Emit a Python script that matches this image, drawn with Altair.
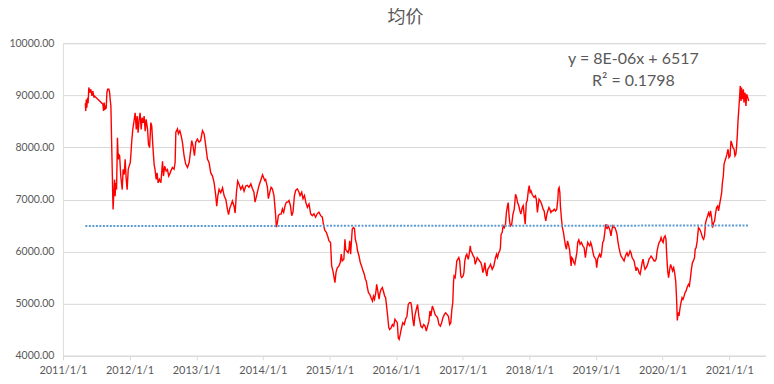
import altair as alt
import pandas as pd

# ---- series: 均价 ----
DATES = [
    "2011-05-04","2011-05-06","2011-05-09","2011-05-12","2011-05-16","2011-05-19","2011-05-23","2011-05-29",
    "2011-06-03","2011-06-09","2011-06-14","2011-06-20","2011-06-22","2011-08-08","2011-08-12","2011-08-15",
    "2011-08-19","2011-08-23","2011-08-26","2011-08-30","2011-09-03","2011-09-10","2011-09-14","2011-09-17",
    "2011-09-21","2011-09-25","2011-09-29","2011-10-01","2011-10-03","2011-10-07","2011-10-11","2011-10-14",
    "2011-10-18","2011-10-22","2011-10-27","2011-10-31","2011-11-03","2011-11-08","2011-11-14","2011-11-22",
    "2011-11-27","2011-12-03","2011-12-08","2011-12-14","2011-12-19","2011-12-25","2011-12-30",
    "2012-01-05","2012-01-08","2012-01-14","2012-01-19","2012-01-27","2012-02-01","2012-02-07","2012-02-12",
    "2012-02-17","2012-02-23","2012-02-28","2012-03-05","2012-03-10","2012-03-16","2012-03-21","2012-03-27",
    "2012-04-01","2012-04-09","2012-04-14","2012-04-20","2012-04-27","2012-05-02","2012-05-08","2012-05-15",
    "2012-05-20","2012-05-26","2012-05-31","2012-06-06","2012-06-13","2012-06-21","2012-06-30","2012-07-05",
    "2012-07-12","2012-07-20","2012-07-27","2012-08-03","2012-08-11","2012-08-14","2012-08-23","2012-09-01",
    "2012-09-07","2012-09-11","2012-09-20","2012-09-25","2012-10-03","2012-10-10","2012-10-17","2012-10-26",
    "2012-11-04","2012-11-14","2012-11-23","2012-12-02","2012-12-07","2012-12-14","2012-12-22","2012-12-29",
    "2013-01-07","2013-01-16","2013-01-25","2013-02-04","2013-02-13","2013-02-22","2013-03-03","2013-03-12",
    "2013-03-21","2013-03-31","2013-04-09","2013-04-18","2013-04-23","2013-04-29","2013-05-06","2013-05-15",
    "2013-05-25","2013-06-03","2013-06-12","2013-06-21","2013-06-27","2013-07-04","2013-07-11","2013-07-18",
    "2013-07-27","2013-08-02","2013-08-09","2013-08-16","2013-08-24","2013-09-02","2013-09-11","2013-09-20",
    "2013-09-29","2013-10-08","2013-10-17","2013-10-27","2013-11-05","2013-11-13","2013-11-19","2013-11-26",
    "2013-12-02","2013-12-11","2013-12-20","2013-12-30",
    "2014-01-04","2014-01-11","2014-01-16","2014-01-26","2014-01-31","2014-02-08","2014-02-15","2014-02-22",
    "2014-03-03","2014-03-09","2014-03-12","2014-03-16","2014-03-22","2014-03-27","2014-04-03","2014-04-11",
    "2014-04-18","2014-04-25","2014-05-03","2014-05-10","2014-05-17","2014-05-24","2014-06-01","2014-06-08",
    "2014-06-15","2014-06-23","2014-06-30","2014-07-09","2014-07-18","2014-07-24","2014-08-02","2014-08-09",
    "2014-08-17","2014-08-24","2014-09-02","2014-09-11","2014-09-20","2014-09-29","2014-10-08","2014-10-17",
    "2014-10-26","2014-11-04","2014-11-14","2014-11-23","2014-11-30","2014-12-07","2014-12-15","2014-12-24",
    "2014-12-29",
    "2015-01-07","2015-01-13","2015-01-20","2015-01-25","2015-01-31","2015-02-06","2015-02-13","2015-02-22",
    "2015-03-01","2015-03-07","2015-03-12","2015-03-21","2015-03-27","2015-03-31","2015-04-05","2015-04-13",
    "2015-04-18","2015-04-22","2015-04-27","2015-05-03","2015-05-06","2015-05-12","2015-05-18","2015-05-23",
    "2015-05-30","2015-06-04","2015-06-12","2015-06-19","2015-06-26","2015-07-04","2015-07-11","2015-07-17",
    "2015-07-22","2015-07-28","2015-08-03","2015-08-10","2015-08-17","2015-08-25","2015-08-30","2015-09-05",
    "2015-09-12","2015-09-17","2015-09-23","2015-09-30","2015-10-05","2015-10-11","2015-10-18","2015-10-26",
    "2015-10-31","2015-11-05","2015-11-11","2015-11-17","2015-11-22","2015-11-27","2015-12-05","2015-12-12",
    "2015-12-19","2015-12-26",
    "2016-01-02","2016-01-08","2016-01-13","2016-01-18","2016-01-24","2016-01-29","2016-02-07","2016-02-15",
    "2016-02-22","2016-03-01","2016-03-08","2016-03-15","2016-03-22","2016-03-26","2016-04-02","2016-04-08",
    "2016-04-13","2016-04-21","2016-04-28","2016-05-05","2016-05-11","2016-05-16","2016-05-24","2016-06-01",
    "2016-06-08","2016-06-15","2016-06-22","2016-06-29","2016-07-05","2016-07-10","2016-07-18","2016-07-25",
    "2016-08-02","2016-08-09","2016-08-16","2016-08-23","2016-08-31","2016-09-07","2016-09-14","2016-09-22",
    "2016-09-29","2016-10-06","2016-10-14","2016-10-21","2016-10-27","2016-11-02","2016-11-07","2016-11-11",
    "2016-11-14","2016-11-20","2016-11-23","2016-11-29","2016-12-04","2016-12-10","2016-12-15","2016-12-21",
    "2016-12-26",
    "2017-01-02","2017-01-07","2017-01-12","2017-01-18","2017-01-23","2017-01-31","2017-02-05","2017-02-11",
    "2017-02-14","2017-02-20","2017-02-27","2017-03-05","2017-03-10","2017-03-16","2017-03-21","2017-03-28",
    "2017-04-03","2017-04-10","2017-04-15","2017-04-21","2017-04-26","2017-05-02","2017-05-07","2017-05-13",
    "2017-05-18","2017-05-24","2017-06-02","2017-06-11","2017-06-20","2017-06-29","2017-07-05","2017-07-10",
    "2017-07-17","2017-07-23","2017-07-26","2017-07-30","2017-08-05","2017-08-10","2017-08-16","2017-08-23",
    "2017-08-28","2017-09-03","2017-09-07","2017-09-11","2017-09-15","2017-09-20","2017-09-26","2017-10-03",
    "2017-10-10","2017-10-14","2017-10-17","2017-10-23","2017-10-28","2017-11-04","2017-11-10","2017-11-15",
    "2017-11-23","2017-11-28","2017-12-04","2017-12-09","2017-12-15","2017-12-20","2017-12-26","2017-12-31",
    "2018-01-05","2018-01-10","2018-01-16","2018-01-21","2018-01-27","2018-02-03","2018-02-08","2018-02-14",
    "2018-02-18","2018-02-23","2018-03-01","2018-03-06","2018-03-12","2018-03-17","2018-03-23","2018-03-28",
    "2018-04-01","2018-04-07","2018-04-12","2018-04-18","2018-04-23","2018-04-29","2018-05-04","2018-05-10",
    "2018-05-17","2018-05-24","2018-05-31","2018-06-06","2018-06-09","2018-06-13","2018-06-17","2018-06-20",
    "2018-06-26","2018-07-01","2018-07-07","2018-07-12","2018-07-18","2018-07-23","2018-07-29","2018-08-03",
    "2018-08-09","2018-08-14","2018-08-18","2018-08-21","2018-08-27","2018-09-01","2018-09-07","2018-09-12",
    "2018-09-18","2018-09-23","2018-09-29","2018-10-06","2018-10-13","2018-10-21","2018-10-28","2018-11-04",
    "2018-11-10","2018-11-17","2018-11-22","2018-11-28","2018-12-03","2018-12-09","2018-12-14","2018-12-20",
    "2018-12-25","2018-12-31",
    "2019-01-05","2019-01-10","2019-01-16","2019-01-21","2019-01-27","2019-02-01","2019-02-07","2019-02-12",
    "2019-02-16","2019-02-21","2019-02-25","2019-03-03","2019-03-08","2019-03-13","2019-03-19","2019-03-24",
    "2019-03-30","2019-04-04","2019-04-10","2019-04-15","2019-04-21","2019-04-26","2019-05-02","2019-05-07",
    "2019-05-13","2019-05-18","2019-05-24","2019-05-29","2019-06-04","2019-06-09","2019-06-15","2019-06-20",
    "2019-06-26","2019-07-01","2019-07-07","2019-07-12","2019-07-18","2019-07-23","2019-07-29","2019-08-03",
    "2019-08-09","2019-08-14","2019-08-20","2019-08-25","2019-08-31","2019-09-05","2019-09-11","2019-09-16",
    "2019-09-22","2019-09-27","2019-10-03","2019-10-08","2019-10-14","2019-10-19","2019-10-25","2019-10-30",
    "2019-11-05","2019-11-10","2019-11-16","2019-11-21","2019-11-27","2019-12-02","2019-12-08","2019-12-13",
    "2019-12-19","2019-12-24","2019-12-30",
    "2020-01-04","2020-01-09","2020-01-15","2020-01-20","2020-01-23","2020-01-29","2020-02-03","2020-02-09",
    "2020-02-14","2020-02-20","2020-02-25","2020-03-02","2020-03-07","2020-03-13","2020-03-18","2020-03-22",
    "2020-03-26","2020-03-31","2020-04-06","2020-04-11","2020-04-17","2020-04-22","2020-04-28","2020-05-03",
    "2020-05-09","2020-05-14","2020-05-22","2020-05-27","2020-06-02","2020-06-07","2020-06-13","2020-06-18",
    "2020-06-24","2020-06-28","2020-07-03","2020-07-09","2020-07-12","2020-07-16","2020-07-22","2020-07-27",
    "2020-08-02","2020-08-07","2020-08-13","2020-08-18","2020-08-24","2020-08-29","2020-09-04","2020-09-09",
    "2020-09-15","2020-09-20","2020-09-26","2020-10-01","2020-10-07","2020-10-12","2020-10-18","2020-10-23",
    "2020-10-29","2020-11-03","2020-11-09","2020-11-14","2020-11-20","2020-11-24","2020-11-29","2020-12-03",
    "2020-12-08","2020-12-14","2020-12-19","2020-12-25","2020-12-30",
    "2021-01-05","2021-01-10","2021-01-16","2021-01-21","2021-01-27","2021-02-01","2021-02-06","2021-02-10",
    "2021-02-14","2021-02-17","2021-02-23","2021-02-26","2021-03-02","2021-03-06","2021-03-09","2021-03-13",
    "2021-03-19","2021-03-22","2021-03-28","2021-04-02","2021-04-06","2021-04-12","2021-04-17",
]

PRICES = [
    8850,8700,8920,8760,8950,8850,9150,9050,
    9115,8990,9080,8955,8990,8830,8700,8860,
    8720,8800,8740,9050,9115,9115,9050,8920,
    8795,8100,7450,7065,6810,7130,7385,7065,
    7320,7190,8185,7770,7865,7835,7450,7190,
    7580,7480,7770,7385,7190,7580,7640,
    7705,7835,8155,8345,8540,8665,8345,8600,
    8280,8540,8665,8345,8570,8470,8600,8310,
    8540,8345,8060,7995,8475,8410,8025,7670,
    7575,7385,7510,7320,7385,7320,7735,7450,
    7640,7545,7575,7450,7510,7545,7615,7580,
    7710,8290,8355,8260,8320,8225,8100,7840,
    7680,7615,7710,7970,8130,8030,7840,8100,
    8160,8100,8130,8320,8260,8030,7775,7710,
    7515,7450,7320,7065,6870,7065,7195,7130,
    7225,7065,7000,6805,6710,6840,6900,6970,
    6870,6740,7130,7355,7290,7195,7260,7160,
    7260,7270,7235,7300,7205,7140,6950,7045,
    7140,7270,7365,7475,
    7430,7365,7385,7235,7015,7140,7235,7205,
    7075,6820,6690,6470,6565,6690,6720,6720,
    6820,6755,6885,6950,6950,6980,6885,6690,
    6755,7075,7175,7205,7140,7075,7140,7015,
    7075,6950,6850,6915,6725,6690,6725,6660,
    6725,6755,6690,6660,6500,6405,6370,6275,
    6210,
    6175,5725,5630,5530,5405,5600,5690,5725,
    5790,5950,5820,5855,6235,6045,6015,5980,
    6045,6205,5950,6270,6430,6460,6440,6235,
    6140,6015,5915,5790,5725,5630,5565,5470,
    5435,5310,5210,5180,5115,5050,5145,5085,
    5210,5370,5240,5085,5210,5275,5310,5210,
    5145,5115,4925,4730,4540,4505,4535,4600,
    4570,4700,
    4665,4635,4345,4315,4410,4505,4635,4600,
    4700,4760,4985,5020,5020,4955,4700,4570,
    4760,4890,4985,4760,4665,4570,4540,4600,
    4570,4475,4570,4665,4860,4760,4955,4890,
    4795,4760,4730,4600,4570,4635,4730,4795,
    4825,4795,4760,4600,4635,4890,5020,5405,
    5530,5500,5595,5820,5850,5885,5820,5530,
    5500,
    5530,5595,5820,5915,5950,5850,5950,6110,
    6015,5980,5915,5885,5755,5820,5885,5850,
    5820,5790,5725,5595,5660,5790,5630,5530,
    5660,5690,5755,5660,5725,5885,5950,5885,
    5980,6015,6075,6335,6365,6495,6460,6525,
    6750,6880,6940,6720,6560,6495,6525,6720,
    6815,6975,7100,7040,6940,6880,6780,6720,
    6845,6880,6690,6525,6940,6975,7165,7265,
    7135,7165,7100,7070,7040,7070,7005,6750,
    6880,7005,6975,6940,6880,6815,6780,6655,
    6590,6720,6780,6845,6815,6750,6780,6780,
    6815,6780,6815,7005,7200,7230,7135,6880,
    6620,6460,6365,6240,6110,6045,6205,6140,
    6045,5855,5725,5885,5855,5790,5755,5855,
    5980,6175,6225,6140,6175,6110,6075,5885,
    6045,6175,6140,6110,6175,6110,6015,5915,
    5885,5855,
    5690,5855,5915,5950,5885,5980,6175,6205,
    6300,6460,6525,6430,6495,6460,6400,6300,
    6430,6495,6460,6460,6400,6335,6175,6075,
    5980,5915,5885,5855,5820,5885,5950,5980,
    5915,5950,6015,5980,5885,5855,5820,5725,
    5630,5690,5660,5595,5565,5660,5790,5855,
    5725,5660,5690,5725,5790,5855,5885,5915,
    5885,5855,5820,5820,5855,6015,6110,6175,
    6205,6270,6205,
    6175,6270,6300,6235,5980,5630,5500,5660,
    5755,5690,5630,5690,5595,5435,5085,4680,
    4830,4765,4925,5020,5115,5085,5145,5210,
    5245,5305,5370,5340,5500,5660,5790,5820,
    5880,6045,6075,6205,6330,6460,6430,6395,
    6330,6265,6235,6300,6555,6620,6685,6745,
    6685,6780,6650,6460,6555,6585,6745,6845,
    6875,6780,6910,7005,7130,7325,7450,7675,
    7740,7805,7870,7965,7805,
    7835,8125,8060,7995,7965,7835,7870,8025,
    8250,8475,8795,8955,9180,8890,9150,8925,
    9115,8860,9050,8795,9020,8955,8890,
]

# ---- linear trendline (Excel) ----
TREND_DATES = ["2011-05-04", "2021-04-17"]
TREND_VALUES = [6490, 6500]

# ---- trendline equation label ----
EQ_LINES = ["y = 8E-06x + 6517", "R² = 0.1798"]
EQ_DATES = ["2019-07-25", "2019-07-25"]
EQ_VALUES = [9690, 9265]

TITLE = "均价"
X_TICK_YEARS = list(range(2011, 2022))
Y_TICKS = [4000, 5000, 6000, 7000, 8000, 9000, 10000]

price_df = pd.DataFrame({"date": DATES, "price": PRICES})
trend_df = pd.DataFrame({"date": TREND_DATES, "price": TREND_VALUES})
eq_df = pd.DataFrame({"date": EQ_DATES, "price": EQ_VALUES, "label": EQ_LINES})

GREY = "#595959"
GRID = "#d9d9d9"
FONT = "Lato"

x_scale = alt.Scale(
    type="utc",
    domain=[alt.DateTime(year=2011, month=1, date=1, utc=True),
            alt.DateTime(year=2021, month=7, date=21, utc=True)],
)
y_scale = alt.Scale(domain=[4000, 10000], nice=False, zero=False)

x_axis = alt.Axis(
    title=None,
    values=[alt.DateTime(year=y, month=1, date=1, utc=True) for y in X_TICK_YEARS],
    labelExpr="utcFormat(datum.value, '%Y/%-m/%-d')",
    grid=False,
    domainColor=GRID,
    tickColor=GRID,
    tickSize=4,
    labelPadding=5,
    labelFont=FONT,
    labelFontSize=11,
    labelColor=GREY,
    labelFlush=False,
    labelOverlap=False,
)
y_axis = alt.Axis(
    title=None,
    values=Y_TICKS,
    format=".2f",
    grid=True,
    gridColor=GRID,
    gridWidth=1,
    domain=False,
    ticks=False,
    labelPadding=9,
    labelFont=FONT,
    labelFontSize=10.5,
    labelColor=GREY,
)

line = alt.Chart(price_df).mark_line(color="#ff0000", strokeWidth=1.4)

trend = alt.Chart(trend_df).mark_line(
    color="#5b9bd5", strokeWidth=2, strokeDash=[2, 1.5]
)

eq = alt.Chart(eq_df).mark_text(
    font=FONT, fontSize=16, color=GREY, align="center", baseline="middle"
).encode(text="label:N")

chart = alt.layer(line, trend, eq).encode(
    x=alt.X("date:T", scale=x_scale, axis=x_axis),
    y=alt.Y("price:Q", scale=y_scale, axis=y_axis),
).properties(
    width=704,
    height=313,
    padding={"left": 0, "top": 1, "right": 0, "bottom": 0},
    title=alt.TitleParams(
        TITLE,
        font="Noto Sans CJK SC",
        fontSize=18,
        fontWeight="normal",
        color=GREY,
        anchor="middle",
        frame="group",
        dx=-9,
        offset=11,
    ),
).configure_view(strokeWidth=0, stroke="transparent").configure(background="white")

chart.save("out.html", embed_options={"renderer": "svg", "actions": False})
